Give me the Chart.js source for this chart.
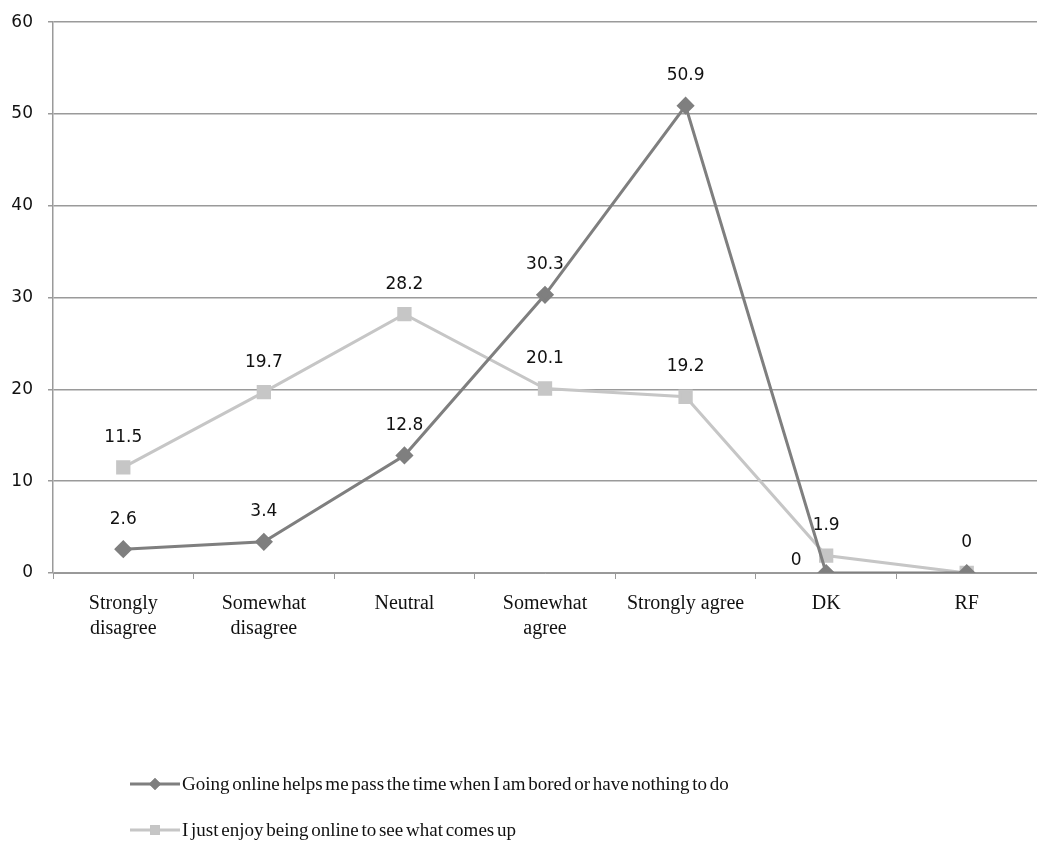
<!DOCTYPE html>
<html>
<head>
<meta charset="utf-8">
<script src="https://cdn.jsdelivr.net/npm/chart.js@4.4.1/dist/chart.umd.min.js"></script>
<style>
  html, body { margin: 0; padding: 0; background: #fff; overflow: hidden; }
  #page { position: relative; width: 1037px; height: 848px; overflow: hidden; }
  #wrap { position: absolute; left: 0; top: -3px; width: 1048px; height: 851px; }
  #legend { position: absolute; left: 130px; top: 761px; font-family: "Liberation Serif", serif; font-size: 19px; word-spacing: -2px; color: #111; }
  .item { display: flex; align-items: center; height: 46px; }
  .item canvas { margin-right: 2px; }
</style>
</head>
<body>
<div id="page">
  <div id="wrap"><canvas id="chart"></canvas></div>
  <div id="legend"></div>
</div>
<script>
const categories = [['Strongly', 'disagree'], ['Somewhat', 'disagree'], 'Neutral', ['Somewhat', 'agree'], 'Strongly agree', 'DK', 'RF'];
const seriesNames = [
  'Going online helps me pass the time when I am bored or have nothing to do',
  'I just enjoy being online to see what comes up'
];
const passTime = [2.6, 3.4, 12.8, 30.3, 50.9, 0, 0];
const seeWhatComesUp = [11.5, 19.7, 28.2, 20.1, 19.2, 1.9, 0];
const yTicks = [0, 10, 20, 30, 40, 50, 60];

const colors = ['#7f7f7f', '#c6c6c6'];
const markers = ['rectRot', 'rect'];

// value labels drawn above points; a couple are moved or skipped like in the original
const labelTweaks = { 0: { 5: 'left', 6: 'hide' } };

const valueLabels = {
  id: 'valueLabels',
  afterDatasetsDraw(chart) {
    const ctx = chart.ctx;
    ctx.save();
    ctx.font = '17px "DejaVu Sans"';
    ctx.fillStyle = '#111';
    ctx.textAlign = 'center';
    ctx.textBaseline = 'middle';
    chart.data.datasets.forEach((ds, i) => {
      chart.getDatasetMeta(i).data.forEach((pt, j) => {
        const tweak = (labelTweaks[i] || {})[j];
        if (tweak === 'hide') return;
        let x = pt.x, y = pt.y - 30;
        if (tweak === 'left') { x = pt.x - 30; y = pt.y - 12; }
        ctx.fillText(String(ds.data[j]), x, y);
      });
    });
    ctx.restore();
  }
};

const chart = new Chart(document.getElementById('chart'), {
  type: 'line',
  data: {
    labels: categories,
    datasets: [
      {
        label: seriesNames[0], data: passTime,
        borderColor: colors[0], backgroundColor: colors[0], borderWidth: 3,
        pointStyle: markers[0], pointRadius: 7, pointHoverRadius: 7, tension: 0
      },
      {
        label: seriesNames[1], data: seeWhatComesUp,
        borderColor: colors[1], backgroundColor: colors[1], borderWidth: 3,
        pointStyle: markers[1], pointRadius: 8, pointHoverRadius: 8, tension: 0
      }
    ]
  },
  options: {
    responsive: true,
    maintainAspectRatio: false,
    animation: false,
    layout: { padding: { top: 6, right: 0, bottom: 195, left: 0 } },
    plugins: {
      legend: { display: false },
      tooltip: { enabled: false }
    },
    scales: {
      x: {
        offset: true,
        grid: { offset: true, drawOnChartArea: false, tickLength: 6, color: '#999' },
        border: { color: '#999', width: 1 },
        ticks: {
          color: '#111', maxRotation: 0, autoSkip: false, padding: 12,
          font: { family: 'Liberation Serif', size: 20, lineHeight: 1.25 }
        }
      },
      y: {
        min: 0, max: 60,
        afterFit: s => { s.width = 53; },
        afterBuildTicks: s => { s.ticks = yTicks.map(v => ({ value: v })); },
        grid: { color: '#9a9a9a', tickLength: 5, lineWidth: 1.5 },
        border: { color: '#9a9a9a', width: 1.5 },
        ticks: {
          color: '#111', padding: 15,
          font: { family: 'DejaVu Sans', size: 17 }
        }
      }
    }
  },
  plugins: [valueLabels]
});

// legend with line + marker samples
const legend = document.getElementById('legend');
seriesNames.forEach((name, i) => {
  const row = document.createElement('div');
  row.className = 'item';
  const c = document.createElement('canvas');
  c.width = 50; c.height = 20;
  const g = c.getContext('2d');
  g.strokeStyle = colors[i]; g.lineWidth = 3;
  g.beginPath(); g.moveTo(0, 10); g.lineTo(50, 10); g.stroke();
  g.fillStyle = colors[i];
  Chart.helpers.drawPoint(g, { pointStyle: markers[i], radius: i === 0 ? 6 : 7, borderWidth: 0 }, 25, 10);
  g.fill();
  row.appendChild(c);
  const t = document.createElement('span');
  t.textContent = name;
  row.appendChild(t);
  legend.appendChild(row);
});
</script>
</body>
</html>
